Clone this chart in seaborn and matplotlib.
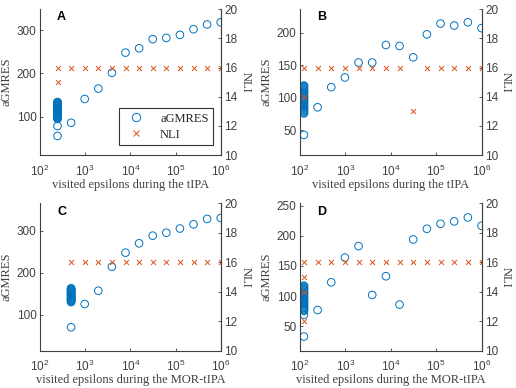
import matplotlib
matplotlib.use("Agg")
import matplotlib.pyplot as plt
from matplotlib.lines import Line2D
import seaborn as sns
import pandas as pd

# ---------------- data ----------------
eps_levels = [122.0703125, 244.140625, 488.28125, 976.5625, 1953.125, 3906.25, 7812.5,
              15625.0, 31250.0, 62500.0, 125000.0, 250000.0, 500000.0, 1000000.0]

# Panel A (tIPA)
eps_A = [488.28125, 976.5625, 1953.125, 3906.25, 7812.5, 15625.0, 31250.0,
         62500.0, 125000.0, 250000.0, 500000.0, 1000000.0]
gm_A = [86, 141, 165, 201.5, 248, 258, 279, 282, 289, 302, 313, 318]
clu_eps_A = 244.140625
clu_gm_A = [55.5, 78.5, 95, 96.5, 98, 99, 100.5, 102, 103, 104.5, 106, 107, 108.5, 110,
            111.5, 113, 114, 115.5, 117, 118.5, 120, 121, 122.5, 124, 125.5, 127, 128,
            129.5, 131, 132.5, 134]
nli_eps_A = [244.140625, 244.140625, 488.28125, 976.5625, 1953.125, 3906.25, 7812.5,
             15625.0, 31250.0, 62500.0, 125000.0, 250000.0, 500000.0, 1000000.0]
nli_A = [16, 15, 16, 16, 16, 16, 16, 16, 16, 16, 16, 16, 16, 16]

# Panel B (tIPA)
eps_B = [244.140625, 488.28125, 976.5625, 1953.125, 3906.25, 7812.5, 15625.0, 31250.0,
         62500.0, 125000.0, 250000.0, 500000.0, 1000000.0]
gm_B = [85, 116, 131, 154, 154, 181, 179.5, 162, 197.4, 214, 211, 216, 207]
clu_eps_B = 122.0703125
clu_gm_B = [42.5, 75.5, 77, 78.5, 80, 81.5, 83, 84.5, 86, 87.5, 89, 90.5, 92, 93.5, 95,
            96.5, 98, 99.5, 101, 102.5, 104, 105.5, 107, 108.5, 110, 111.5, 113, 114.5,
            116, 117.5, 118.5]
nli_eps_B = [122.0703125, 122.0703125, 244.140625, 488.28125, 976.5625, 1953.125, 3906.25,
             7812.5, 15625.0, 31250.0, 62500.0, 125000.0, 250000.0, 500000.0, 1000000.0]
nli_B = [16, 14, 16, 16, 16, 16, 16, 16, 16, 13, 16, 16, 16, 16, 16]

# Panel C (MOR-tIPA)
eps_C = [976.5625, 1953.125, 3906.25, 7812.5, 15625.0, 31250.0, 62500.0, 125000.0,
         250000.0, 500000.0, 1000000.0]
gm_C = [125.4, 157, 214, 247.6, 269.8, 288, 295, 305, 315, 327.8, 330]
clu_eps_C = 488.28125
clu_gm_C = [70, 130, 131.5, 133, 134.5, 136, 137.5, 139, 140.5, 142, 143.5, 145, 146.5,
            148, 149.5, 151, 152.5, 154, 155.5, 157, 158.5, 160, 161.5, 163]
nli_eps_C = [488.28125, 976.5625, 1953.125, 3906.25, 7812.5, 15625.0, 31250.0, 62500.0,
             125000.0, 250000.0, 500000.0, 1000000.0]
nli_C = [16, 16, 16, 16, 16, 16, 16, 16, 16, 16, 16, 16]

# Panel D (MOR-tIPA)
eps_D = [244.140625, 488.28125, 976.5625, 1953.125, 3906.25, 7812.5, 15625.0, 31250.0,
         62500.0, 125000.0, 250000.0, 500000.0, 1000000.0]
gm_D = [77, 123, 164, 183, 102, 133, 86, 194, 211.7, 220, 224, 230.5, 216.7]
clu_eps_D = 122.0703125
clu_gm_D = [33, 69, 75.5, 77, 78.5, 80, 81.5, 83, 84.5, 86, 87.5, 89, 90.5, 92, 93.5,
            95, 96.5, 98, 99.5, 101, 102.5, 104, 105.5, 107, 108.5, 110, 111.5, 113,
            114.5, 116, 117.3]
nli_eps_D = [122.0703125, 122.0703125, 122.0703125, 122.0703125, 244.140625, 488.28125,
             976.5625, 1953.125, 3906.25, 7812.5, 15625.0, 31250.0, 62500.0, 125000.0,
             250000.0, 500000.0, 1000000.0]
nli_D = [16, 15, 14, 12, 16, 16, 16, 16, 16, 16, 16, 16, 16, 16, 16, 16, 16]

x_ticks = [1e2, 1e3, 1e4, 1e5, 1e6]
nli_ticks = [10, 12, 14, 16, 18, 20]

# ---------------- style ----------------
sns.set_style("ticks")
plt.rcParams["font.family"] = ["Liberation Sans", "DejaVu Sans"]
plt.rcParams["mathtext.fontset"] = "custom"
plt.rcParams["mathtext.rm"] = "Liberation Sans"
plt.rcParams["mathtext.it"] = "Liberation Sans:italic"
AX_COL = "#404040"
BLUE = "#0072BD"
ORANGE = "#D95319"
SERIF = "Liberation Serif"

fig = plt.figure(figsize=(5.16, 3.88), dpi=100)

W, H = 516.0, 388.0
panels = [
    dict(letter="A", rect=(40, 9.3, 220.7, 155), eps=eps_A, gm=gm_A, ce=clu_eps_A, cg=clu_gm_A,
         ne=nli_eps_A, nl=nli_A, ylim=(11.6, 348), yt=[100, 200, 300],
         xl="visited epsilons during the tIPA", legend=True),
    dict(letter="B", rect=(300, 9.3, 481.5, 155), eps=eps_B, gm=gm_B, ce=clu_eps_B, cg=clu_gm_B,
         ne=nli_eps_B, nl=nli_B, ylim=(11.5, 236), yt=[50, 100, 150, 200],
         xl="visited epsilons during the tIPA", legend=False),
    dict(letter="C", rect=(40, 203.3, 220.7, 350.7), eps=eps_C, gm=gm_C, ce=clu_eps_C, cg=clu_gm_C,
         ne=nli_eps_C, nl=nli_C, ylim=(14.3, 365), yt=[100, 200, 300],
         xl="visited epsilons during the MOR-tIPA", legend=False),
    dict(letter="D", rect=(300, 203.3, 481.5, 350.7), eps=eps_D, gm=gm_D, ce=clu_eps_D, cg=clu_gm_D,
         ne=nli_eps_D, nl=nli_D, ylim=(9.5, 254), yt=[50, 100, 150, 200, 250],
         xl="visited epsilons during the MOR-tIPA", legend=False),
]

for p in panels:
    x0, y0, x1, y1 = p["rect"]
    ax = fig.add_axes([x0 / W, 1 - y1 / H, (x1 - x0) / W, (y1 - y0) / H])
    ax.set_xscale("log")
    ax2 = ax.twinx()

    gm_df = pd.DataFrame({"eps": [p["ce"]] * len(p["cg"]) + list(p["eps"]),
                          "gm": list(p["cg"]) + list(p["gm"])})
    nli_df = pd.DataFrame({"eps": p["ne"], "nli": p["nl"]})

    sns.scatterplot(data=gm_df, x="eps", y="gm", ax=ax, marker="o", s=30, legend=False)
    coll = ax.collections[-1]
    coll.set_facecolor("none")
    coll.set_edgecolor(BLUE)
    coll.set_linewidth(0.7)

    sns.scatterplot(data=nli_df, x="eps", y="nli", ax=ax2, marker="x", s=13,
                    color=ORANGE, linewidth=0.7, legend=False)

    ax.set_xlim(1e2, 1e6)
    ax.set_ylim(*p["ylim"])
    ax2.set_ylim(10, 20)
    ax.set_xticks(x_ticks)
    ax.xaxis.set_minor_locator(matplotlib.ticker.NullLocator())
    ax.set_yticks(p["yt"])
    ax2.set_yticks(nli_ticks)

    for a in (ax, ax2):
        a.spines["top"].set_visible(False)
        for s in a.spines.values():
            s.set_color(AX_COL)
            s.set_linewidth(0.8)
        a.tick_params(direction="in", length=2.5, width=0.6, colors=AX_COL,
                      labelsize=8.5, pad=2.5)
    ax.tick_params(axis="x", pad=6)
    ax2.spines["left"].set_visible(False)
    ax2.spines["bottom"].set_visible(False)

    ax.set_xlabel(p["xl"], family=SERIF, fontsize=9, color=AX_COL, labelpad=0)
    ax.set_ylabel("aGMRES", family=SERIF, fontsize=9, color=AX_COL, labelpad=3)
    ax2.set_ylabel("NLI", family=SERIF, fontsize=9, color=AX_COL, rotation=270,
                   labelpad=10)

    ax2.text(0.12, 0.985, p["letter"], transform=ax.transAxes, ha="center", va="top",
             fontweight="bold", fontsize=9, color="black")

    if p["legend"]:
        handles = [Line2D([], [], linestyle="none", marker="o", markersize=6,
                          markerfacecolor="none", markeredgecolor=BLUE, markeredgewidth=0.7),
                   Line2D([], [], linestyle="none", marker="x", markersize=4,
                          color=ORANGE, markeredgewidth=0.7)]
        leg = ax2.legend(handles, ["aGMRES", "NLI"], loc="lower right",
                         bbox_to_anchor=(0.957, 0.069), frameon=True, fancybox=False,
                         prop={"family": SERIF, "size": 9}, borderpad=0.35,
                         handletextpad=0.9, labelspacing=0.3, handlelength=2.0,
                         borderaxespad=0)
        leg.get_frame().set_edgecolor("black")
        leg.get_frame().set_linewidth(0.8)

fig.savefig("out.png", dpi=100)
